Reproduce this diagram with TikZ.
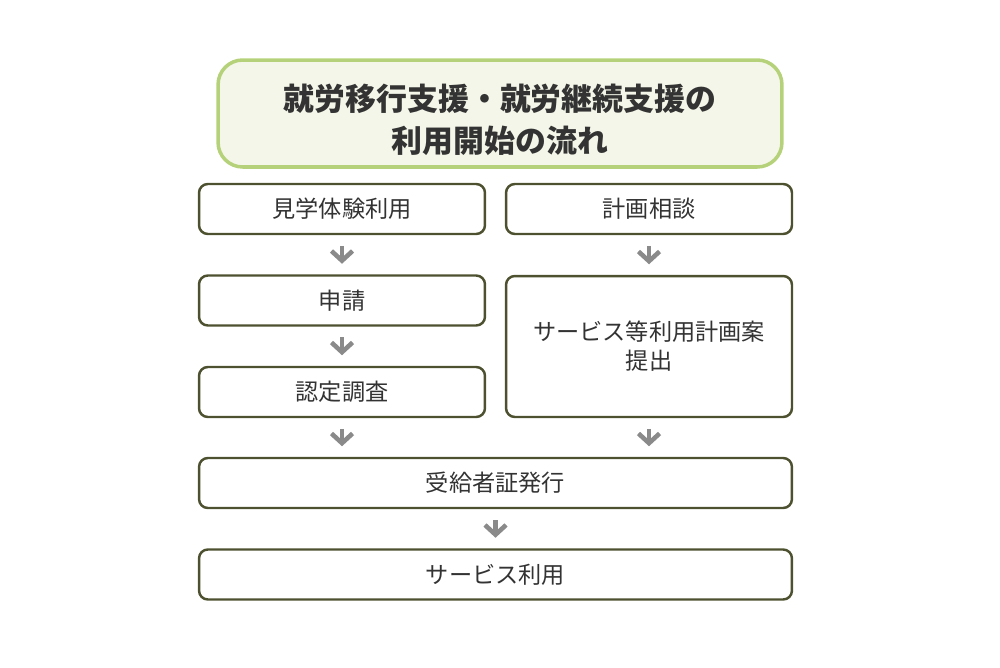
\documentclass[tikz,border=0pt]{standalone}
\usepackage{fontspec}
\setmainfont{Noto Sans CJK JP}
\usepackage{tikz}
\usetikzlibrary{positioning}
\usetikzlibrary{arrows.meta}
\definecolor{boxline}{HTML}{4E5130}
\definecolor{titleline}{HTML}{B5D27A}
\definecolor{titlefill}{HTML}{F3F6E8}
\definecolor{arrowgray}{HTML}{8A8A8A}
\definecolor{textgray}{HTML}{333333}
\tikzset{
	step box/.style={draw=boxline, line width=1.4pt, rectangle, rounded corners=5pt, fill=white, inner sep=0pt, minimum height=1cm, text=textgray, font=\fontsize{13.2}{16.5}\selectfont, align=center},
	half box/.style={step box, minimum width=5.72cm},
	full box/.style={step box, minimum width=11.86cm},
	% heading box on top
	title box/.style={draw=titleline, line width=2pt, rectangle, rounded corners=14pt, fill=titlefill, minimum width=11.28cm, minimum height=2.14cm, text=textgray, font=\bfseries\fontsize{17.6}{24}\selectfont, align=center},
}

\begin{document}
\begin{tikzpicture}[x=0.02cm, y=-0.02cm]
		
		\useasboundingbox (0,0) rectangle (1000,667);
		
		\node (title) [title box] at (500,113.5) {\rule{0pt}{22pt}就労移行支援・就労継続支援の\\利用開始の流れ};
		
		\node (kengaku) [half box] at (342,209) {見学体験利用};
		\node (sodan) [half box] at (649,209) {計画相談};
		
		\node (shinsei) [half box] at (342,300.5) {申請};
		\node (chosa) [half box] at (342,392) {認定調査};
		
		\node (keikaku) [half box, minimum height=2.82cm] at (649,346.5) {サービス等利用計画案\\提出};
		
		\node (hakko) [full box] at (495.5,483) {受給者証発行};
		\node (riyo) [full box] at (495.5,574.5) {サービス利用};
		
		\begin{scope}[arrowgray, line width=2.6pt, -{Straight Barb[length=5.5pt, width=12pt]}, shorten <=6pt, shorten >=6pt]
			\draw (kengaku) -- (shinsei);
			\draw (shinsei) -- (chosa);
			\draw (sodan) -- (keikaku);
			\draw (chosa.south) -- (chosa.south |- hakko.north);
			\draw (keikaku.south) -- (keikaku.south |- hakko.north);
			\draw (hakko.south) -- (riyo.north);
		\end{scope}
	\end{tikzpicture}
\end{document}
